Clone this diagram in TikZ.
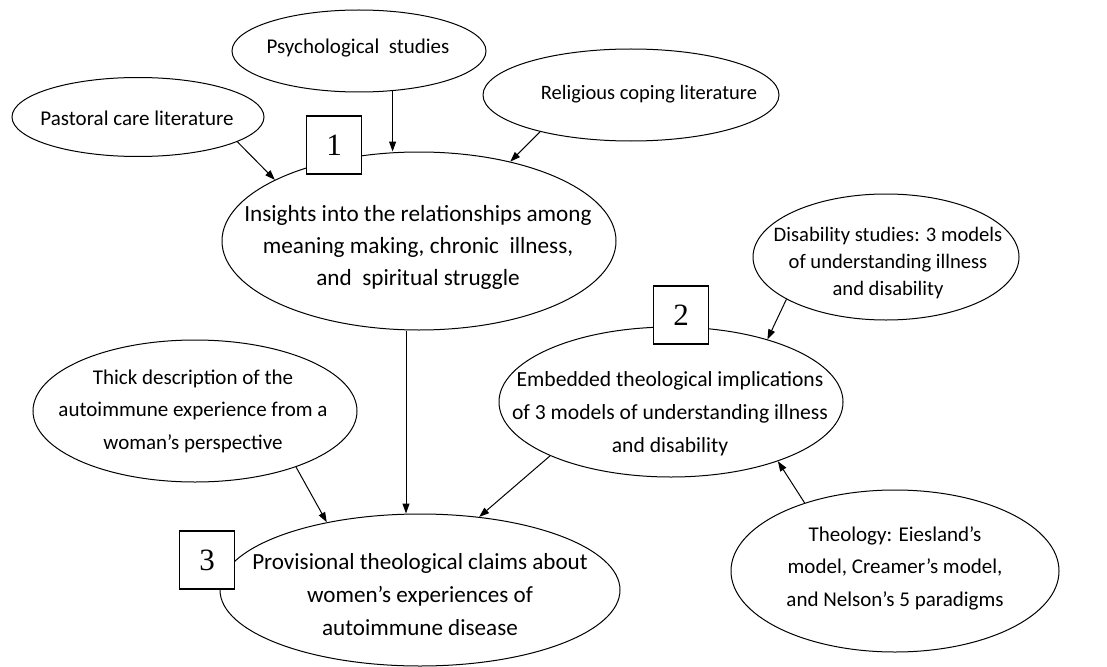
\documentclass[tikz,border=0pt]{standalone}
\usepackage{fontspec}
\setmainfont{Carlito}
\newfontfamily\numfont{Liberation Serif}
\usetikzlibrary{shapes.geometric,arrows.meta}
\begin{document}
\begin{tikzpicture}[x=1pt,y=-1pt,
  ell/.style={draw, ellipse, line width=1pt, inner sep=0pt},
  txt/.style={align=center, inner sep=0pt, font=\fontsize{20.5}{32}\selectfont},
  numbox/.style={draw, fill=white, line width=1.2pt, minimum width=55pt, minimum height=58pt, inner sep=0pt, font=\numfont\fontsize{31}{31}\selectfont},
  arr/.style={-{Triangle[length=10pt,width=7pt]}, line width=1pt}]
\useasboundingbox (0,0) rectangle (1107,666);
% ellipses
\node[ell, minimum width=254pt, minimum height=82pt] (psych) at (359,51) {};
\node[ell, minimum width=252pt, minimum height=79pt] (pastoral) at (138,117) {};
\node[ell, minimum width=296pt, minimum height=92pt] (relig) at (631,95) {};
\node[ell, minimum width=394pt, minimum height=178pt] (insights) at (419,241) {};
\node[ell, minimum width=266pt, minimum height=126pt] (disab) at (886,257) {};
\node[ell, minimum width=344pt, minimum height=150pt] (embed) at (671,402) {};
\node[ell, minimum width=324pt, minimum height=142pt] (thick) at (195,411) {};
\node[ell, minimum width=400pt, minimum height=152pt] (prov) at (420,590) {};
\node[ell, minimum width=328pt, minimum height=162pt] (theo) at (895,571) {};
% texts
\node[txt, font=\fontsize{21}{32}\selectfont] (psychT) at (358,48) {Psychological\ \ studies};
\node[txt, font=\fontsize{21}{32}\selectfont] (pastoralT) at (137,118) {Pastoral care literature};
\node[txt] (religT) at (649,94) {Religious coping literature};
\node[txt, font=\fontsize{23.2}{32}\selectfont] (insightsT) at (418,247) {Insights into the relationships among\\meaning making, chronic\ \ illness,\\and\ \ spiritual struggle};
\node[txt, font=\fontsize{20.6}{26.7}\selectfont] (disabT) at (888,263) {Disability studies: 3 models\\of understanding illness\\and disability};
\node[txt, font=\fontsize{21.6}{33}\selectfont] (embedT) at (670,414) {Embedded theological implications\\of 3 models of understanding illness\\and disability};
\node[txt, font=\fontsize{21}{32.5}\selectfont] (thickT) at (193,411) {Thick description of the\\autoimmune experience from a\\woman’s perspective};
\node[txt, font=\fontsize{23.1}{33}\selectfont] (provT) at (420,595) {Provisional theological claims about\\women’s experiences of\\autoimmune disease};
\node[txt, font=\fontsize{21}{32.5}\selectfont] (theoT) at (895,568) {Theology: Eiesland’s\\model, Creamer’s model,\\and Nelson’s 5 paradigms};
% number boxes
\node[numbox] (b1) at (334,145) {1};
\node[numbox] (b2) at (681,315) {2};
\node[numbox] (b3) at (207,560) {3};
% arrows
\draw[arr] (psych.-50) -- (psych.-50 |- insights.north);
\draw[arr] (pastoral.-14) -- (insights.157);
\draw[arr] (relig.-158) -- (insights.41);
\draw[arr] ([xshift=-13pt]insights.south) -- ([xshift=-13pt]insights.south |- prov.north);
\draw[arr] (thick.-29) -- (prov.144);
\draw[arr] (embed.-156) -- (prov.51);
\draw[arr] (disab.-157) -- (embed.33);
\draw[arr] (theo.143) -- (embed.-29);
\end{tikzpicture}
\end{document}
